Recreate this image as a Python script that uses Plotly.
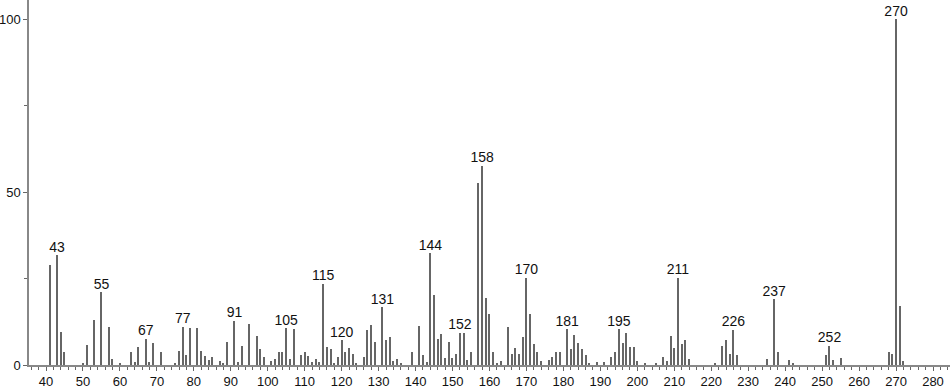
import plotly.graph_objects as go

mz = [41, 43, 44, 45, 50, 51, 53, 55, 57, 58, 60, 63, 64, 65, 67, 68, 69, 71, 75, 76,
      77, 78, 79, 81, 82, 83, 84, 85, 87, 88, 89, 91, 92, 93, 95, 97, 98, 99, 101, 102,
      103, 104, 105, 106, 107, 109, 110, 111, 112, 113, 114, 115, 116, 117, 118, 119, 120, 121, 122, 123,
      124, 126, 127, 128, 129, 131, 132, 133, 134, 135, 136, 139, 141, 142, 143, 144, 145, 146, 147, 148,
      149, 150, 151, 152, 153, 154, 155, 157, 158, 159, 160, 161, 162, 163, 165, 166, 167, 168, 169, 170,
      171, 172, 173, 174, 176, 177, 178, 179, 181, 182, 183, 184, 185, 186, 187, 189, 191, 193, 194, 195,
      196, 197, 198, 199, 200, 202, 205, 207, 208, 209, 210, 211, 212, 213, 214, 221, 223, 224, 225, 226,
      227, 235, 237, 238, 241, 242, 251, 252, 253, 255, 268, 269, 270, 271, 272]
intensity = [28.9, 31.8, 9.5, 3.9, 0.3, 5.8, 13.1, 21.0, 11.1, 1.7, 0.3, 3.9, 0.9, 5.1, 7.6, 0.8, 6.5, 3.7, 0.3, 4.1,
             11.1, 2.8, 10.7, 10.7, 4.1, 2.7, 1.5, 2.2, 1.1, 0.3, 6.7, 12.8, 0.8, 5.5, 11.9, 8.3, 4.6, 2.3, 1.2, 1.7,
             3.9, 3.7, 10.7, 1.8, 10.5, 3.0, 3.9, 2.7, 0.8, 1.7, 0.9, 23.5, 5.3, 4.6, 0.4, 2.3, 7.2, 3.9, 4.9, 3.2,
             0.3, 2.3, 10.0, 11.5, 6.6, 16.7, 7.1, 8.1, 1.2, 1.7, 0.3, 3.9, 11.4, 2.8, 0.9, 32.3, 20.3, 7.6, 9.1, 2.0,
             6.7, 2.0, 3.1, 9.4, 9.3, 1.5, 3.9, 52.6, 57.7, 19.3, 14.7, 3.9, 0.3, 1.1, 11.1, 3.2, 4.9, 3.2, 8.1, 25.3,
             14.7, 6.1, 3.7, 1.2, 1.5, 2.3, 3.7, 3.9, 10.4, 4.6, 8.6, 6.5, 4.6, 3.0, 0.3, 0.8, 0.9, 2.3, 3.9, 10.3,
             6.3, 9.4, 5.1, 5.3, 1.2, 0.3, 0.3, 2.3, 1.2, 8.5, 4.9, 25.3, 6.1, 7.2, 1.6, 0.3, 5.6, 7.2, 3.2, 10.2,
             2.9, 1.6, 19.0, 3.9, 1.5, 0.7, 2.9, 5.5, 1.5, 1.9, 3.9, 3.3, 100.0, 17.1, 1.2]

labeled_peaks = [43, 55, 67, 77, 91, 105, 115, 120, 131, 144, 152, 158, 170, 181, 195, 211, 226, 237, 252, 270]

x_ticks = list(range(40, 290, 10))
y_ticks = [0, 50, 100]

lookup = dict(zip(mz, intensity))
label_y = [lookup[m] for m in labeled_peaks]

FONT = "Liberation Sans"

fig = go.Figure()
fig.add_trace(go.Bar(
    x=mz, y=intensity, width=0.3,
    marker=dict(color="#666666", line=dict(width=0)),
    hoverinfo="x+y", showlegend=False,
))
fig.add_trace(go.Scatter(
    x=labeled_peaks, y=label_y, mode="text",
    text=[str(m) for m in labeled_peaks], textposition="top center",
    textfont=dict(family=FONT, size=14, color="#111111"),
    showlegend=False, hoverinfo="skip", cliponaxis=False,
))

fig.update_layout(
    width=951, height=389,
    margin=dict(l=29, r=1, t=0, b=24, autoexpand=False),
    paper_bgcolor="white", plot_bgcolor="white",
    font=dict(family=FONT, size=14, color="#111111"),
    bargap=0,
)
fig.update_xaxes(
    range=[35.4, 284.6], tickvals=x_ticks, ticktext=[str(t) for t in x_ticks],
    showline=True, linecolor="#888888", linewidth=1.5,
    ticks="outside", ticklen=4, tickcolor="#666666", tickwidth=1,
    minor=dict(dtick=2, tick0=0, ticks="outside", ticklen=3, tickcolor="#666666"),
    showgrid=False, zeroline=False, tickfont=dict(size=13), automargin=False,
)
fig.update_yaxes(
    range=[0, 105.6], tickvals=y_ticks, ticktext=[str(t) for t in y_ticks],
    showline=True, linecolor="#888888", linewidth=1.5,
    ticks="outside", ticklen=4, tickcolor="#666666", tickwidth=1,
    minor=dict(dtick=25, tick0=0, ticks="outside", ticklen=3, tickcolor="#666666"),
    showgrid=False, zeroline=False, tickfont=dict(size=13), automargin=False,
)

fig.write_html("out.html")
